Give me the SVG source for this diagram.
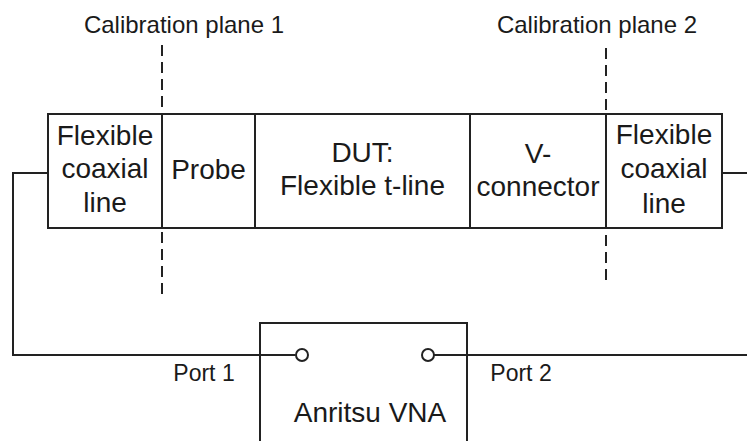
<svg xmlns="http://www.w3.org/2000/svg" width="747" height="441" viewBox="0 0 747 441">
<style>
.box{fill:none;stroke:#222;stroke-width:2}
.div{stroke:#1a1a1a;stroke-width:2.2}
.wire{fill:none;stroke:#222;stroke-width:2}
.dash{stroke:#222;stroke-width:2;stroke-dasharray:11 6}
.port{fill:#fff;stroke:#222;stroke-width:2}
text{font-family:"Liberation Sans",Arial,sans-serif;fill:#1a1a1a;text-anchor:middle}
.big{font-size:28px}
.mid{font-size:24px}
.sm{font-size:23px}
</style>
<rect width="747" height="441" fill="#fff"/>
<g id="labels">
<text class="mid" x="184" y="33">Calibration plane 1</text>
<text class="mid" x="597" y="33">Calibration plane 2</text>
</g>
<g id="planes">
<line class="dash" x1="162" y1="45" x2="162" y2="298"/>
<line class="dash" x1="606" y1="48" x2="606" y2="281"/>
</g>
<g id="coax1">
<rect class="box" x="48" y="114" width="114" height="114"/>
<text class="big" x="105" y="145">Flexible</text>
<text class="big" x="105" y="178">coaxial</text>
<text class="big" x="105" y="212">line</text>
</g>
<g id="probe">
<rect class="box" x="162" y="114" width="93" height="114"/>
<text class="big" x="208.5" y="179">Probe</text>
</g>
<g id="dut">
<rect class="box" x="255" y="114" width="215" height="114"/>
<text class="big" x="362.5" y="162">DUT:</text>
<text class="big" x="362.5" y="195">Flexible t-line</text>
</g>
<g id="vconn">
<rect class="box" x="470" y="114" width="136" height="114"/>
<text class="big" x="538" y="163">V-</text>
<text class="big" x="538" y="196">connector</text>
</g>
<g id="coax2">
<rect class="box" x="606" y="114" width="116" height="114"/>
<text class="big" x="664" y="144">Flexible</text>
<text class="big" x="664" y="178">coaxial</text>
<text class="big" x="664" y="213">line</text>
</g>
<g id="vna">
<path class="box" d="M260 441 V323 H467 V441"/>
<text class="big" x="370" y="422">Anritsu VNA</text>
</g>
<g id="connectors">
<polyline class="wire" points="48,173 13,173 13,355 295.5,355"/>
<line class="wire" x1="434" y1="355" x2="747" y2="355"/>
<line class="wire" x1="722" y1="173" x2="747" y2="173"/>
<circle class="port" cx="302" cy="355" r="6"/>
<circle class="port" cx="428" cy="355" r="6"/>
<text class="sm" x="204" y="381">Port 1</text>
<text class="sm" x="521" y="381">Port 2</text>
</g>
</svg>
